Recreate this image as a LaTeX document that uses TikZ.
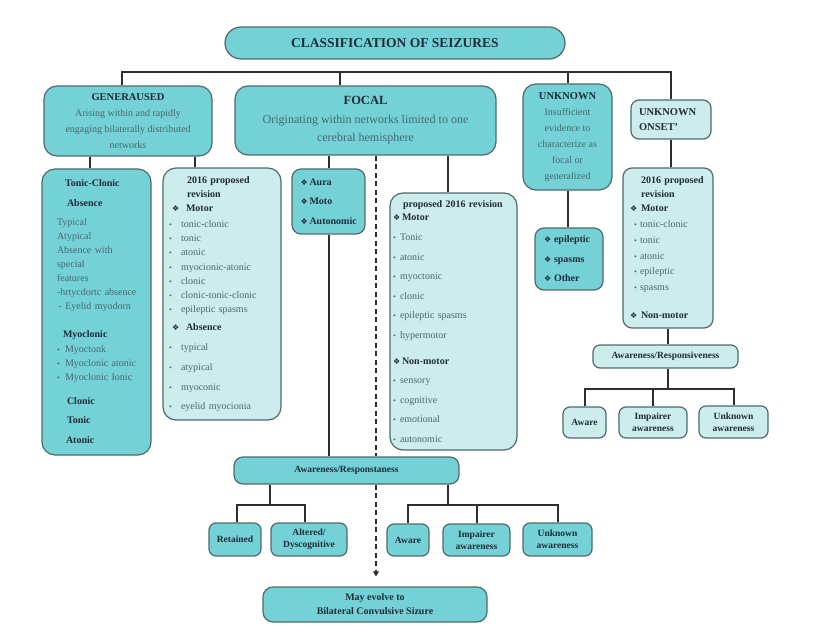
\documentclass[tikz,border=0pt]{standalone}
\usepackage{fontspec}
\setmainfont{Liberation Serif}
\newfontfamily\symfont{DejaVu Sans}
\usetikzlibrary{arrows.meta}
\definecolor{boxdark}{HTML}{74D2D7}
\definecolor{boxlight}{HTML}{CDEDED}
\definecolor{boxline}{HTML}{4F6A6C}
\definecolor{headtxt}{HTML}{1F2B38}
\definecolor{bodytxt}{HTML}{46686D}
\definecolor{wire}{HTML}{2E2E2E}
\newcommand{\hd}[1]{\textbf{\color{headtxt}#1}}
\newcommand{\dia}[1][12pt]{\makebox[#1][l]{\color{headtxt}\symfont\fontsize{8}{8}\selectfont\char"2756}}
\newcommand{\itm}[1][10pt]{\makebox[#1][l]{\footnotesize\textbullet}}

\begin{document}
\begin{tikzpicture}[x=1pt, y=-1pt,
  dbox/.style={draw=boxline, fill=boxdark, line width=1.2pt, rounded corners=13pt,
    align=center, inner sep=2pt, text=bodytxt, font=\fontsize{10}{14}\selectfont},
  lbox/.style={dbox, fill=boxlight},
  small/.style={rounded corners=7pt, text=headtxt, font=\fontsize{9.5}{12}\selectfont\bfseries},
  link/.style={draw=wire, line width=2pt},
  dashline/.style={draw=wire, line width=2pt, dash pattern=on 5pt off 3.5pt},
]
  \useasboundingbox (0,0) rectangle (815,639);

  \node[dbox, rounded corners=16pt, minimum width=340pt, minimum height=32pt,
    text=headtxt, font=\fontsize{13.5}{14}\selectfont\bfseries] (title) at (395,43)
    {CLASSIFICATION OF SEIZURES};

  \node[dbox, minimum width=168pt, minimum height=70pt, font=\fontsize{10}{16}\selectfont] (gen) at (128,121)
    {\hd{\fontsize{10.5}{16}\selectfont GENERAUSED}\\Arising within and rapidly\\engaging bilaterally distributed\\networks};
  \node[dbox, minimum width=261pt, minimum height=69pt, font=\fontsize{12}{18.5}\selectfont] (focal) at (365.5,120.5)
    {\hd{\fontsize{12.5}{18.5}\selectfont FOCAL}\\Originating within networks limited to one\\cerebral hemisphere};
  \node[dbox, minimum width=89pt, minimum height=106pt, font=\fontsize{10}{16}\selectfont] (unk) at (567.5,137)
    {\hd{\fontsize{10.5}{16}\selectfont UNKNOWN}\\Insufficient\\evidence to\\characterize as\\focal or\\generalized};
  \node[lbox, rounded corners=8pt, align=left, text width=64pt, inner xsep=8pt, minimum height=39pt,
    text=headtxt, font=\fontsize{10.5}{15.5}\selectfont\bfseries] (onset) at (671,119.5)
    {UNKNOWN\\ONSET'};

  \node[dbox, align=left, text width=79pt, inner xsep=15pt, minimum height=286pt] (tc) at (96.5,312)
    {\hspace*{8pt}\hd{Tonic-Clonic}\\[6pt]
     \hspace*{10pt}\hd{Absence}\\[5pt]
     Typical\\
     Atypical\\
     Absence with\\
     special\\
     features\\
     \mbox{-hrtycdortc absence}\\
     \,- Eyelid myodorn\\[14pt]
     \hspace*{6pt}\hd{Myoclonic}\\[1pt]
     \itm[8pt]Myoctonk\\
     \itm[8pt]\mbox{Myoclonic atonic}\\
     \itm[8pt]\mbox{Myoclonic Ionic}\\[10pt]
     \hspace*{10pt}\hd{Clonic}\\[5pt]
     \hspace*{10pt}\hd{Tonic}\\[6pt]
     \hspace*{9pt}\hd{Atonic}};

  \node[lbox, align=left, text width=106pt, inner xsep=6pt, minimum height=252pt] (gen2016) at (222,294)
    {\hspace*{18pt}\hd{2016 proposed}\\
     \hspace*{18pt}\hd{revision}\\
     \hspace*{3pt}\dia[14pt]\hd{Motor}\\[2pt]
     \itm[12pt]tonic-clonic\\
     \itm[12pt]tonic\\
     \itm[12pt]atonic\\[1pt]
     \itm[12pt]myocionic-atonic\\
     \itm[12pt]clonic\\
     \itm[12pt]clonic-tonic-clonic\\
     \itm[12pt]epileptic spasms\\[4pt]
     \hspace*{3pt}\dia[14pt]\hd{Absence}\\[6pt]
     \itm[12pt]typical\\[6pt]
     \itm[12pt]atypical\\[6pt]
     \itm[12pt]myoconic\\[5pt]
     \itm[12pt]eyelid myocionia};

  \node[dbox, rounded corners=9pt, align=left, text width=56pt, inner xsep=8.5pt, minimum height=65pt,
    font=\fontsize{10}{19.5}\selectfont] (aura) at (328.5,201.5)
    {\dia[9pt]\hd{Aura}\\\dia[9pt]\hd{Moto}\\\dia[9pt]\hd{Autonomic}};

  \node[lbox, align=left, text width=121pt, inner xsep=3pt, minimum height=257pt,
    font=\fontsize{10}{19.5}\selectfont] (foc2016) at (453.5,321.5)
    {\hspace*{10pt}\hd{proposed 2016 revision}\\[-6.5pt]
     \dia[9pt]\hd{Motor}\\[0.5pt]
     \itm[7pt]Tonic\\
     \itm[7pt]atonic\\
     \itm[7pt]myoctonic\\
     \itm[7pt]clonic\\
     \itm[7pt]epileptic spasms\\
     \itm[7pt]hypermotor\\[6.5pt]
     \dia[9pt]\hd{Non-motor}\\
     \itm[7pt]sensory\\
     \itm[7pt]cognitive\\
     \itm[7pt]emotional\\
     \itm[7pt]autonomic};

  \node[dbox, rounded corners=9pt, align=left, text width=50pt, inner xsep=9pt, minimum height=62pt,
    font=\fontsize{10}{19.5}\selectfont] (epi) at (569,259)
    {\dia[10pt]\hd{epileptic}\\\dia[10pt]\hd{spasms}\\\dia[10pt]\hd{Other}};

  \node[lbox, rounded corners=9pt, align=left, text width=76pt, inner xsep=7pt, minimum height=160pt,
    font=\fontsize{10}{15.5}\selectfont] (on2016) at (668,248)
    {\hspace*{11pt}\hd{2016 proposed}\\[-1.5pt]
     \hspace*{11pt}\hd{revision}\\[-1.5pt]
     \dia[11pt]\hd{Motor}\\[0.5pt]
     \hspace*{4pt}\itm[6pt]tonic-clonic\\[0.5pt]
     \hspace*{4pt}\itm[6pt]tonic\\
     \hspace*{4pt}\itm[6pt]atonic\\
     \hspace*{4pt}\itm[6pt]epileptic\\[0.5pt]
     \hspace*{4pt}\itm[6pt]spasms\\[12.5pt]
     \dia[11pt]\hd{Non-motor}};

  \node[lbox, small, minimum width=145pt, minimum height=23pt] (awr) at (665.5,356.5) {Awareness/Responsiveness};
  \node[lbox, small, minimum width=43pt, minimum height=31pt] (raw) at (584.5,422.5) {Aware};
  \node[lbox, small, minimum width=68pt, minimum height=31pt] (rimp) at (653,422.5) {Impairer\\awareness};
  \node[lbox, small, minimum width=69pt, minimum height=32pt] (runk) at (733.5,422) {Unknown\\awareness};

  \node[dbox, small, rounded corners=9pt, minimum width=225pt, minimum height=27pt] (awf) at (346.5,470.5) {Awareness/Responstaness};
  \node[dbox, small, minimum width=52pt, minimum height=33pt] (ret) at (235,539.5) {Retained};
  \node[dbox, small, minimum width=76pt, minimum height=33pt] (alt) at (309,539.5) {Altered/\\Dyscognitive};
  \node[dbox, small, minimum width=42pt, minimum height=32pt] (faw) at (408,540) {Aware};
  \node[dbox, small, minimum width=67pt, minimum height=32pt] (fimp) at (476.5,540) {Impairer\\awareness};
  \node[dbox, small, minimum width=69pt, minimum height=33pt] (funk) at (557.5,539.5) {Unknown\\awareness};
  \node[dbox, small, rounded corners=10pt, minimum width=224pt, minimum height=35pt,
    font=\fontsize{10}{14}\selectfont\bfseries] (evolve) at (375,604.5) {May evolve to\\Bilateral Convulsive Sizure};

  % top level
  \coordinate (bus) at (395,72);
  \draw[link] ([xshift=-6pt]gen.north) |- (bus) -| (onset.north);
  \draw[link] ([xshift=-25.5pt]focal.north) -- ([xshift=-25.5pt]focal.north |- bus);
  \draw[link] (unk.north) -- (unk.north |- bus);

  % generalized
  \draw[link] ([xshift=-6.5pt]tc.north) -- ([xshift=-6.5pt]tc.north |- gen.south);
  \draw[link] ([xshift=-27pt]gen2016.north) -- ([xshift=-27pt]gen2016.north |- gen.south);

  % focal
  \draw[link] (aura.north) -- (aura.north |- focal.south);
  \draw[link] (aura.south) -- (aura.south |- awf.north);
  \draw[link] ([xshift=-5.5pt]foc2016.north) -- ([xshift=-5.5pt]foc2016.north |- focal.south);
  \draw[dashline] ([xshift=10.5pt]focal.south) -- ([xshift=10.5pt]focal.south |- awf.north);
  \draw[dashline, -{Triangle[length=5pt, width=6pt]}, shorten >=10pt]
    ([xshift=10.5pt]focal.south |- awf.south) -- ([xshift=10.5pt]focal.south |- evolve.north);
  \coordinate (lj) at (270,505);
  \draw[link] (lj |- awf.south) -- (lj);
  \draw[link] ([xshift=2pt]ret.north) |- (lj) -| ([xshift=-4pt]alt.north);
  \coordinate (rj) at (448,505);
  \draw[link] (rj |- awf.south) -- (rj);
  \draw[link] (faw.north) |- (rj) -| (funk.north);
  \draw[link] (fimp.north) -- (fimp.north |- rj);

  % unknown
  \draw[link] (unk.south) -- (unk.south |- epi.north);
  \draw[link] (onset.south) -- (onset.south |- on2016.north);
  \draw[link] (on2016.south) -- (on2016.south |- awr.north);
  \coordinate (sj) at (668,389);
  \draw[link] (sj |- awr.south) -- (sj);
  \draw[link] (raw.north) |- (sj) -| (runk.north);
  \draw[link] (rimp.north) -- (rimp.north |- sj);
\end{tikzpicture}
\end{document}
